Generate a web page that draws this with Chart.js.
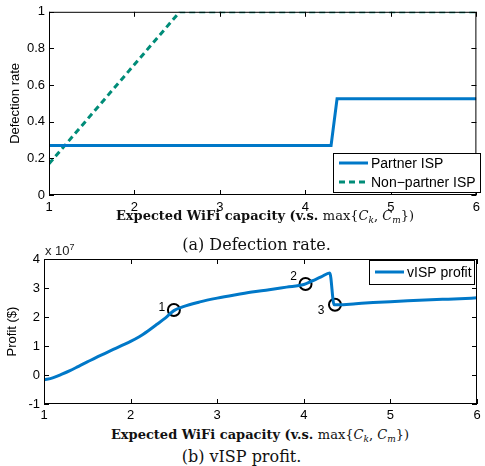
<!DOCTYPE html>
<html>
<head>
<meta charset="utf-8">
<script src="https://cdn.jsdelivr.net/npm/chart.js@4"></script>
<style>
  html, body { margin:0; padding:0; background:#fff; }
  body { width:485px; height:466px; position:relative; overflow:hidden; }
  canvas { position:absolute; left:0; }
  .xt { position:absolute; left:0; text-align:center; font-family:"DejaVu Serif","Liberation Serif",serif; font-size:13px; line-height:15px; color:#111; white-space:nowrap; }
  .xt b { font-weight:bold; }
  .xt i { font-style:italic; }
  .xt sub { font-size:9px; font-style:italic; vertical-align:-3px; line-height:0; }
  .cap { position:absolute; left:0; text-align:center; font-family:"DejaVu Serif","Liberation Serif",serif; font-size:16px; line-height:18px; color:#111; white-space:nowrap; }
  .exp { position:absolute; left:45px; top:243px; font-family:"Liberation Sans",Arial,sans-serif; font-size:13px; color:#222; }
  .exp sup { font-size:9px; vertical-align:5px; line-height:0; }
</style>
</head>
<body>
<canvas id="c1" width="485" height="215" style="top:0;width:485px;height:215px"></canvas>
<canvas id="c2" width="485" height="185" style="top:240px;width:485px;height:185px"></canvas>
<div class="xt" style="top:208px;width:530px"><b>Expected WiFi capacity (v.s. </b>max{<i>C</i><sub>k</sub>, <i>C</i><sub>m</sub>})</div>
<div class="cap" style="top:236px;width:513px">(a) Defection rate.</div>
<div class="exp">x 10<sup>7</sup></div>
<div class="xt" style="top:427px;width:520px"><b>Expected WiFi capacity (v.s. </b>max{<i>C</i><sub>k</sub>, <i>C</i><sub>m</sub>})</div>
<div class="cap" style="top:448px;width:483px">(b) vISP profit.</div>
<script>
// ---- Data: (a) Defection rate ----
const partnerX = [1, 4.30, 4.37, 6];
const partnerY = [0.27, 0.27, 0.525, 0.525];
const nonPartnerX = [1, 2.53, 6];
const nonPartnerY = [0.17, 1.0, 1.0];
const ticksA_X = [1, 2, 3, 4, 5, 6];
const ticksA_Y = [0, 0.2, 0.4, 0.6, 0.8, 1];

// ---- Data: (b) vISP profit (x 1e7) ----
const profitX = [1, 1.1, 1.2, 1.3, 1.4, 1.5, 1.6, 1.7, 1.8, 1.9, 2, 2.1, 2.2, 2.3, 2.4, 2.5, 2.6, 2.8, 3, 3.2, 3.4, 3.6, 3.8, 4, 4.1, 4.2, 4.3, 4.35, 4.4, 4.6, 4.8, 5, 5.2, 5.4, 5.6, 5.8, 6];
const profitY = [-0.17, -0.1, 0.02, 0.15, 0.3, 0.45, 0.6, 0.74, 0.88, 1.02, 1.16, 1.32, 1.52, 1.74, 1.96, 2.22, 2.35, 2.52, 2.65, 2.76, 2.86, 2.94, 3.03, 3.12, 3.25, 3.38, 3.52, 2.42, 2.42, 2.46, 2.5, 2.53, 2.56, 2.59, 2.61, 2.63, 2.66];
const markX = [2.5, 4.02, 4.36];
const markY = [2.24, 3.14, 2.42];
const markLabels = ['1', '2', '3'];
const ticksB_X = [1, 2, 3, 4, 5, 6];
const ticksB_Y = [-1, 0, 1, 2, 3, 4];

const BLUE = 'rgb(0,120,200)';
const GREEN = 'rgb(0,140,120)';
const SANS = '"Liberation Sans", Arial, sans-serif';

const pts = (xs, ys) => xs.map((x, i) => ({x, y: ys[i]}));

// Box + inward ticks (MATLAB style)
const frame = {
  id: 'frame',
  afterDatasetsDraw(chart, args, opts) {
    const {ctx, chartArea: a, scales} = chart;
    ctx.save();
    ctx.strokeStyle = '#000';
    ctx.lineWidth = 1;
    ctx.strokeRect(a.left + 0.5, a.top + 0.5, a.right - a.left - 1, a.bottom - a.top - 1);
    const L = 5;
    ctx.beginPath();
    opts.xt.forEach(v => {
      const px = Math.round(scales.x.getPixelForValue(v)) + 0.5;
      ctx.moveTo(px, a.bottom); ctx.lineTo(px, a.bottom - L);
      ctx.moveTo(px, a.top); ctx.lineTo(px, a.top + L);
    });
    opts.yt.forEach(v => {
      const py = Math.round(scales.y.getPixelForValue(v)) + 0.5;
      ctx.moveTo(a.left, py); ctx.lineTo(a.left + L, py);
      ctx.moveTo(a.right, py); ctx.lineTo(a.right - L, py);
    });
    ctx.stroke();
    ctx.restore();
  }
};

// Custom legend box
const boxLegend = {
  id: 'boxLegend',
  afterDraw(chart, args, opts) {
    const {ctx} = chart;
    const b = opts.box;
    ctx.save();
    ctx.fillStyle = '#fff';
    ctx.fillRect(b[0], b[1], b[2], b[3]);
    ctx.strokeStyle = '#000';
    ctx.lineWidth = 1;
    ctx.strokeRect(b[0] + 0.5, b[1] + 0.5, b[2], b[3]);
    ctx.font = '14px ' + SANS;
    ctx.textBaseline = 'middle';
    opts.items.forEach((it, i) => {
      const y = b[1] + opts.rowY[i];
      ctx.strokeStyle = it.color;
      ctx.lineWidth = 3;
      ctx.setLineDash(it.dash || []);
      ctx.beginPath();
      ctx.moveTo(b[0] + 6, y); ctx.lineTo(b[0] + 35, y);
      ctx.stroke();
      ctx.setLineDash([]);
      ctx.fillStyle = '#000';
      ctx.fillText(it.text, b[0] + 38, y + 1);
    });
    ctx.restore();
  }
};

// Marker number labels
const markText = {
  id: 'markText',
  afterDatasetsDraw(chart) {
    const {ctx, scales} = chart;
    const off = [[-12, -2], [-12, -7], [-14, 6]];
    ctx.save();
    ctx.font = '12px ' + SANS;
    ctx.fillStyle = '#000';
    ctx.textAlign = 'center';
    ctx.textBaseline = 'middle';
    markX.forEach((x, i) => {
      const px = scales.x.getPixelForValue(x), py = scales.y.getPixelForValue(markY[i]);
      ctx.fillText(markLabels[i], px + off[i][0], py + off[i][1]);
    });
    ctx.restore();
  }
};

const tickFont = {family: SANS, size: 13};

new Chart(document.getElementById('c1'), {
  type: 'line',
  data: {
    datasets: [
      {label: 'Partner ISP', data: pts(partnerX, partnerY), borderColor: BLUE, borderWidth: 3, pointRadius: 0, tension: 0},
      {label: 'Non-partner ISP', data: pts(nonPartnerX, nonPartnerY), borderColor: GREEN, borderWidth: 3, borderDash: [6, 4], pointRadius: 0, tension: 0}
    ]
  },
  options: {
    responsive: false, animation: false, devicePixelRatio: 1,
    layout: {padding: {top: 9, right: 3, left: 0, bottom: 0}},
    plugins: {
      legend: {display: false}, tooltip: {enabled: false},
      frame: {xt: ticksA_X, yt: ticksA_Y},
      boxLegend: {box: [333, 153, 147, 39], rowY: [10, 29], items: [
        {text: 'Partner ISP', color: BLUE},
        {text: 'Non\u2212partner ISP', color: GREEN, dash: [6, 4]}
      ]}
    },
    scales: {
      x: {type: 'linear', min: 1, max: 6,
          afterBuildTicks: s => { s.ticks = ticksA_X.map(v => ({value: v})); },
          afterFit: s => { s.height = 20; },
          grid: {display: false, drawTicks: false, tickLength: 0}, border: {display: false},
          ticks: {font: tickFont, color: '#000', padding: 5, maxRotation: 0}},
      y: {min: 0, max: 1,
          afterBuildTicks: s => { s.ticks = ticksA_Y.map(v => ({value: v})); },
          afterFit: s => { s.width = 49; },
          grid: {display: false, drawTicks: false, tickLength: 0}, border: {display: false},
          title: {display: true, text: 'Defection rate', font: {family: SANS, size: 13}, color: '#000', padding: {top: 8, bottom: 0}},
          ticks: {font: tickFont, color: '#000', padding: 4, callback: v => String(Math.round(v * 10) / 10)}}
    }
  },
  plugins: [frame, boxLegend]
});

new Chart(document.getElementById('c2'), {
  type: 'line',
  data: {
    datasets: [
      {label: 'vISP profit', data: pts(profitX, profitY), borderColor: BLUE, borderWidth: 3, pointRadius: 0, cubicInterpolationMode: 'monotone'},
      {label: 'marks', type: 'scatter', data: pts(markX, markY), pointRadius: 6, pointBorderWidth: 2, pointBorderColor: '#000', pointBackgroundColor: 'rgba(0,0,0,0)', showLine: false}
    ]
  },
  options: {
    responsive: false, animation: false, devicePixelRatio: 1,
    layout: {padding: {top: 19, right: 6, left: 0, bottom: 0}},
    plugins: {
      legend: {display: false}, tooltip: {enabled: false},
      frame: {xt: ticksB_X, yt: ticksB_Y},
      boxLegend: {box: [369, 20, 105, 24], rowY: [12], items: [
        {text: 'vISP profit', color: BLUE}
      ]}
    },
    scales: {
      x: {type: 'linear', min: 1, max: 6,
          afterBuildTicks: s => { s.ticks = ticksB_X.map(v => ({value: v})); },
          afterFit: s => { s.height = 21; },
          grid: {display: false, drawTicks: false, tickLength: 0}, border: {display: false},
          ticks: {font: tickFont, color: '#000', padding: 4, maxRotation: 0}},
      y: {min: -1, max: 4,
          afterBuildTicks: s => { s.ticks = ticksB_Y.map(v => ({value: v})); },
          afterFit: s => { s.width = 44; },
          grid: {display: false, drawTicks: false, tickLength: 0}, border: {display: false},
          title: {display: true, text: 'Profit ($)', font: {family: SANS, size: 13}, color: '#000', padding: {top: 5, bottom: 0}},
          ticks: {font: tickFont, color: '#000', padding: 4}}
    }
  },
  plugins: [frame, boxLegend, markText]
});
</script>
</body>
</html>
